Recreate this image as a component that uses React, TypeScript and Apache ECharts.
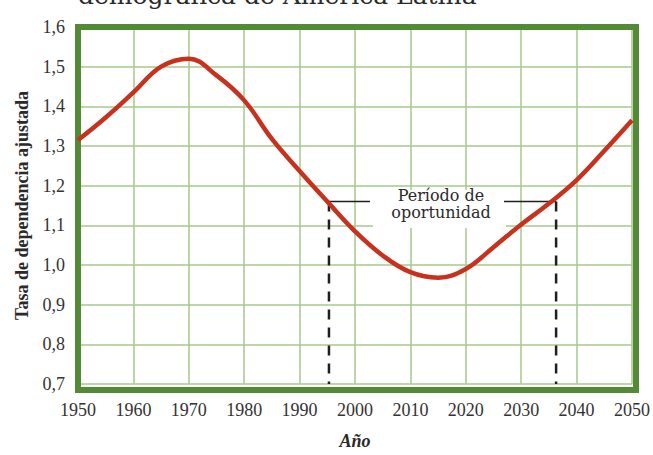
import React, { useEffect, useRef } from "react";
import * as echarts from "echarts";

// Data
const years = [1950, 1955, 1960, 1965, 1970, 1975, 1980, 1985, 1990, 1995, 2000, 2005, 2010, 2015, 2020, 2025, 2030, 2035, 2040, 2045, 2050];
const ratio = [1.315, 1.372, 1.435, 1.5, 1.52, 1.478, 1.415, 1.318, 1.237, 1.16, 1.085, 1.024, 0.982, 0.968, 0.99, 1.045, 1.102, 1.155, 1.214, 1.288, 1.365];

const periodStart = 1995.3;
const periodEnd = 2036.3;
const periodLevel = 1.16;
const bracketLeftEnd = 2002.7;
const bracketRightStart = 2026.9;
const yMin = 0.7;
const yMax = 1.6;
const xMin = 1950;
const xMax = 2050;

const titleText = "demográfica de América Latina";
const yName = "Tasa de dependencia ajustada";
const xName = "Año";
const periodLabel = "Período de\noportunidad";

const GRID = { left: 78, top: 27, right: 17, bottom: 65 };
const W = 653;
const H = 455;

export default function App() {
  const ref = useRef<HTMLDivElement>(null);
  useEffect(() => {
    if (!ref.current) return;
    const chart = echarts.init(ref.current, undefined, { renderer: "svg" });
    const serif = "Liberation Serif";
    const gw = W - GRID.left - GRID.right;
    const gh = H - GRID.top - GRID.bottom;
    const option: any = {
      animation: false,
      backgroundColor: "#ffffff",
      grid: { left: GRID.left, top: GRID.top, right: GRID.right, bottom: GRID.bottom },
      xAxis: {
        type: "value",
        min: xMin,
        max: xMax,
        interval: 10,
        name: xName,
        nameLocation: "middle",
        nameGap: 48,
        nameTextStyle: { fontFamily: serif, fontSize: 18, fontWeight: "bold", fontStyle: "italic", color: "#2a2a2a" },
        axisLine: { show: false },
        axisTick: { show: false },
        axisLabel: {
          fontFamily: serif,
          fontSize: 18,
          color: "#333",
          margin: 17,
          formatter: (v: number) => String(Math.round(v)),
        },
        splitLine: { show: true, lineStyle: { color: "#a6c98d", width: 1.5 } },
      },
      yAxis: {
        type: "value",
        min: yMin,
        max: yMax,
        interval: 0.1,
        name: yName,
        nameLocation: "middle",
        nameGap: 47,
        nameTextStyle: { fontFamily: serif, fontSize: 18, fontWeight: "bold", color: "#2a2a2a" },
        axisLine: { show: false },
        axisTick: { show: false },
        axisLabel: {
          fontFamily: serif,
          fontSize: 18,
          color: "#333",
          margin: 13,
          padding: [0, 0, 8, 0],
          formatter: (v: number) => v.toFixed(1).replace(".", ","),
        },
        splitLine: { show: true, lineStyle: { color: "#a6c98d", width: 1.5 } },
      },
      graphic: [
        {
          type: "rect",
          z: 1,
          shape: { x: GRID.left, y: GRID.top, width: gw, height: gh },
          style: { fill: "none", stroke: "#538a35", lineWidth: 6 },
          silent: true,
        },
        {
          type: "rect",
          z: 1,
          shape: { x: 373, y: 190, width: 133, height: 38 },
          style: { fill: "#ffffff" },
          silent: true,
        },
        {
          type: "text",
          z: 5,
          x: 441,
          y: 204,
          style: {
            text: periodLabel,
            font: "16px 'DejaVu Serif'",
            fontSize: 16,
            fontFamily: "DejaVu Serif",
            lineHeight: 17,
            fill: "#2a2a2a",
            textAlign: "center",
            align: "center",
            textVerticalAlign: "middle",
            verticalAlign: "middle",
          },
          silent: true,
        },
        {
          type: "text",
          z: 5,
          x: 78,
          y: -5,
          style: {
            text: titleText,
            font: "25px 'DejaVu Serif'",
            fontSize: 25,
            fontFamily: "DejaVu Serif",
            fill: "#2a2a2a",
            textAlign: "left",
            align: "left",
            textVerticalAlign: "middle",
            verticalAlign: "middle",
          },
          silent: true,
        },
      ],
      series: [
        {
          type: "line",
          z: 3,
          data: [
            [periodStart, periodLevel],
            [periodStart, yMin],
          ],
          symbol: "none",
          lineStyle: { color: "#1f1f1f", width: 2.5, type: [10, 8] },
          silent: true,
        },
        {
          type: "line",
          z: 3,
          data: [
            [periodEnd, periodLevel],
            [periodEnd, yMin],
          ],
          symbol: "none",
          lineStyle: { color: "#1f1f1f", width: 2.5, type: [10, 8] },
          silent: true,
        },
        {
          type: "line",
          z: 3,
          data: [
            [periodStart, periodLevel],
            [bracketLeftEnd, periodLevel],
          ],
          symbol: "none",
          lineStyle: { color: "#1f1f1f", width: 1.5 },
          silent: true,
        },
        {
          type: "line",
          z: 3,
          data: [
            [bracketRightStart, periodLevel],
            [periodEnd, periodLevel],
          ],
          symbol: "none",
          lineStyle: { color: "#1f1f1f", width: 1.5 },
          silent: true,
        },
        {
          type: "line",
          z: 4,
          data: years.map((y, i) => [y, ratio[i]]),
          smooth: 0.4,
          symbol: "none",
          lineStyle: { color: "#c6321d", width: 4.5 },
          silent: true,
        },
      ],
    };
    chart.setOption(option);
    return () => chart.dispose();
  }, []);
  return (
    <div
      ref={ref}
      style={{ position: "absolute", left: 0, top: 0, width: W, height: H }}
    />
  );
}
